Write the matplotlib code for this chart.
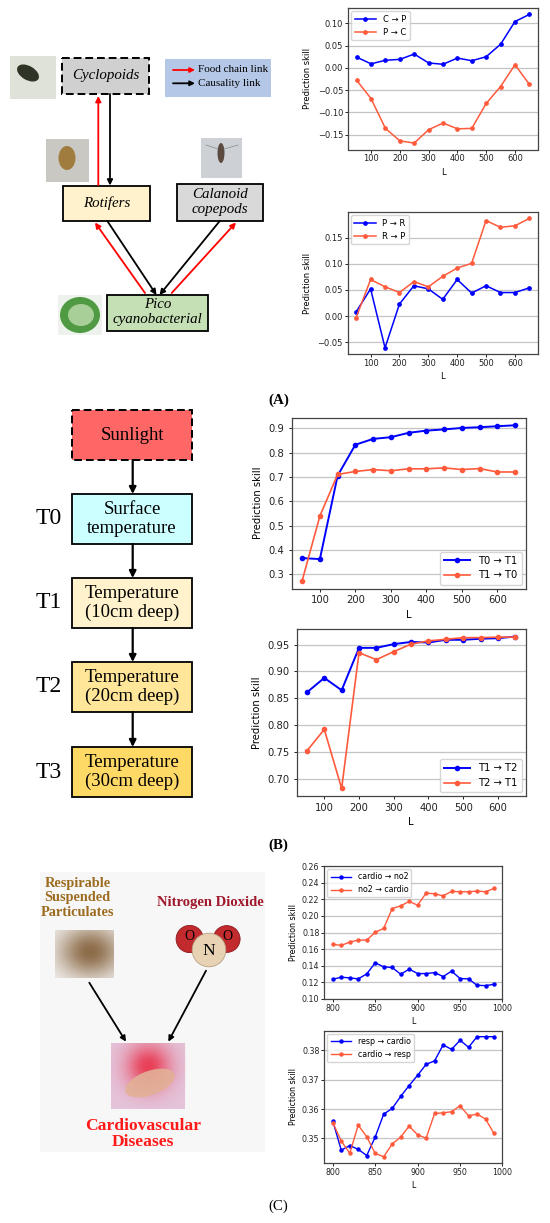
import numpy as np
import matplotlib
matplotlib.use('Agg')
import matplotlib.pyplot as plt
from matplotlib.patches import Rectangle, Circle, Ellipse

# ---------------- data ----------------
L_A = [50, 100, 150, 200, 250, 300, 350, 400, 450, 500, 550, 600, 650]
A1_c_to_p = [0.024, 0.009, 0.017, 0.019, 0.031, 0.011, 0.008, 0.022, 0.016, 0.025, 0.053, 0.104, 0.120]
A1_p_to_c = [-0.028, -0.069, -0.136, -0.164, -0.169, -0.139, -0.124, -0.137, -0.136, -0.080, -0.042, 0.007, -0.037]
A2_p_to_r = [0.008, 0.052, -0.061, 0.023, 0.058, 0.052, 0.032, 0.070, 0.044, 0.058, 0.045, 0.045, 0.054]
A2_r_to_p = [-0.003, 0.070, 0.056, 0.045, 0.066, 0.056, 0.076, 0.092, 0.101, 0.183, 0.170, 0.173, 0.187]

L_B = [50, 100, 150, 200, 250, 300, 350, 400, 450, 500, 550, 600, 650]
B1_t0_t1 = [0.366, 0.362, 0.705, 0.832, 0.856, 0.863, 0.881, 0.890, 0.895, 0.901, 0.904, 0.908, 0.912]
B1_t1_t0 = [0.273, 0.539, 0.710, 0.722, 0.730, 0.725, 0.733, 0.733, 0.737, 0.730, 0.734, 0.720, 0.720]
B2_t1_t2 = [0.861, 0.888, 0.865, 0.944, 0.944, 0.951, 0.955, 0.954, 0.959, 0.959, 0.961, 0.962, 0.965]
B2_t2_t1 = [0.752, 0.792, 0.682, 0.935, 0.922, 0.937, 0.951, 0.957, 0.960, 0.963, 0.963, 0.964, 0.964]

L_C = [800, 810, 820, 830, 840, 850, 860, 870, 880, 890, 900, 910, 920, 930, 940, 950, 960, 970, 980, 990]
C1_cardio_no2 = [0.1238, 0.1262, 0.1254, 0.1242, 0.1302, 0.1435, 0.1387, 0.1379, 0.1298, 0.1359,
                 0.1306, 0.1306, 0.1318, 0.1270, 0.1335, 0.1246, 0.1242, 0.1165, 0.1161, 0.1177]
C1_no2_cardio = [0.1657, 0.1645, 0.1685, 0.1709, 0.1709, 0.1802, 0.1850, 0.2088, 0.2121, 0.2173,
                 0.2129, 0.2274, 0.2266, 0.2241, 0.2294, 0.2290, 0.2290, 0.2298, 0.2290, 0.2330]
C2_resp_cardio = [0.3559, 0.3460, 0.3476, 0.3463, 0.3442, 0.3505, 0.3583, 0.3602, 0.3643, 0.3680,
                  0.3715, 0.3752, 0.3764, 0.3818, 0.3803, 0.3834, 0.3810, 0.3846, 0.3846, 0.3846]
C2_cardio_resp = [0.3554, 0.3491, 0.3450, 0.3545, 0.3506, 0.3449, 0.3438, 0.3481, 0.3505, 0.3542,
                  0.3512, 0.3501, 0.3585, 0.3587, 0.3591, 0.3611, 0.3577, 0.3583, 0.3566, 0.3517]

BLUE = '#0000ff'
RED = '#ff5a3c'
SERIF = ['Liberation Serif', 'DejaVu Serif']

W, H = 550, 1223
fig = plt.figure(figsize=(W / 100, H / 100), dpi=100)


def px(l, t, r, b):
    return [l / W, 1 - b / H, (r - l) / W, (b - t) / H]


# ---------------- diagram layer ----------------
dg = fig.add_axes([0, 0, 1, 1])
dg.set_xlim(0, W)
dg.set_ylim(H, 0)
dg.axis('off')


def box(x0, y0, x1, y1, fc, dashed=False, lw=1.3):
    ls = (0, (4, 2)) if dashed else '-'
    dg.add_patch(Rectangle((x0, y0), x1 - x0, y1 - y0, fc=fc, ec='black', lw=lw, ls=ls, zorder=2))


def arrow(x0, y0, x1, y1, color='black', lw=1.3, ms=8):
    dg.annotate('', xy=(x1, y1), xytext=(x0, y0),
                arrowprops=dict(arrowstyle='-|>', color=color, lw=lw, mutation_scale=ms,
                                shrinkA=0, shrinkB=0), zorder=3)


def txt(x, y, s, fs, **kw):
    dg.text(x, y, s, fontsize=fs, family=SERIF, ha='center', va='center', zorder=4, **kw)


def gradient_img(x0, y0, x1, y1, rgb, cx=0.5, cy=0.5, sx=0.45, sy=0.45, amax=1.0):
    n = 60
    xx, yy = np.meshgrid(np.linspace(0, 1, n), np.linspace(0, 1, n))
    a = np.exp(-(((xx - cx) / sx) ** 2 + ((yy - cy) / sy) ** 2)) * amax
    img = np.zeros((n, n, 4))
    img[..., 0], img[..., 1], img[..., 2] = rgb
    img[..., 3] = np.clip(a, 0, 1)
    dg.imshow(img, extent=(x0, x1, y1, y0), aspect='auto', zorder=2, interpolation='bilinear')


# ---- Panel A diagram ----
# photos (approximate sketches)
dg.add_patch(Rectangle((10, 56), 46, 43, fc='#dfe2d8', ec='none', zorder=1))
dg.add_patch(Ellipse((28, 73), 24, 14, angle=30, fc='#2f3526', ec='none', zorder=2))
dg.add_patch(Rectangle((46, 139), 43, 43, fc='#cac8c2', ec='none', zorder=1))
dg.add_patch(Ellipse((67, 158), 17, 24, fc='#a07c3e', ec='none', zorder=2))
dg.add_patch(Rectangle((201, 138), 41, 40, fc='#cdd1d6', ec='none', zorder=1))
dg.add_patch(Ellipse((221, 153), 7, 20, fc='#5a4a40', ec='none', zorder=2))
dg.plot([206, 218], [145, 149], color='#888', lw=0.5, zorder=2)
dg.plot([224, 238], [149, 145], color='#888', lw=0.5, zorder=2)
dg.add_patch(Rectangle((58, 295), 44, 40, fc='#eef2ec', ec='none', zorder=1))
dg.add_patch(Ellipse((80, 315), 40, 36, fc='#4f9a42', ec='none', zorder=2))
dg.add_patch(Ellipse((81, 315), 26, 22, fc='#a9cf98', ec='none', zorder=2))

box(62.3, 58.3, 149, 94, '#d0d0d0', dashed=True, lw=1.4)
txt(105.6, 76, 'Cyclopoids', 10.8, style='italic')
dg.add_patch(Rectangle((164.7, 59), 106, 37.7, fc='#b4c7e7', ec='none', zorder=1))
arrow(173, 70, 195, 70, color='#ff0000', lw=1.3, ms=7)
arrow(173, 83.3, 195, 83.3, color='black', lw=1.3, ms=7)
dg.text(197.5, 70, 'Food chain link', fontsize=8, family=SERIF, va='center', ha='left', zorder=4)
dg.text(197.5, 83.3, 'Causality link', fontsize=8, family=SERIF, va='center', ha='left', zorder=4)

box(63.3, 185.7, 150, 221, '#fff2cc')
txt(106.6, 203.3, 'Rotifers', 10.8, style='italic')
box(176.7, 184.3, 263.3, 220.7, '#d9d9d9')
txt(220, 202.5, 'Calanoid\ncopepods', 10.8, style='italic', linespacing=1.2)
box(106.7, 295, 208.3, 331, '#c5e0b4')
txt(157.5, 312.5, 'Pico\ncyanobacterial', 10.8, style='italic', linespacing=1.2)

arrow(98.3, 185, 98.3, 96, color='#ff0000')
arrow(110, 94, 110, 185.5)
arrow(145, 293, 95, 222.5, color='#ff0000')
arrow(107.3, 221, 156.5, 295)
arrow(220, 220.7, 159.5, 295)
arrow(171.7, 293, 236, 222.5, color='#ff0000')

txt(278.5, 400, '(A)', 10.8, weight='bold')

# ---- Panel B diagram ----
box(72.3, 410, 191.5, 460, '#ff6666', dashed=True, lw=1.4)
txt(132, 435, 'Sunlight', 13.5)
box(72.3, 494, 191.5, 544, '#ccffff')
txt(132, 519, 'Surface\ntemperature', 13.5, linespacing=1.2)
box(72.3, 578, 191.5, 628, '#fff2cc')
txt(132, 603, 'Temperature\n(10cm deep)', 13.5, linespacing=1.2)
box(72.3, 662, 191.5, 712, '#ffe699')
txt(132, 687, 'Temperature\n(20cm deep)', 13.5, linespacing=1.2)
box(72.3, 747, 191.5, 797, '#ffd966')
txt(132, 772, 'Temperature\n(30cm deep)', 13.5, linespacing=1.2)
for y0, y1 in [(460, 494), (544, 578), (628, 662), (712, 747)]:
    arrow(132.7, y0, 132.7, y1, lw=1.6, ms=10)
for lab, y in [('T0', 519), ('T1', 603), ('T2', 687), ('T3', 772)]:
    txt(49, y, lab, 17)
txt(278.5, 845, '(B)', 10.8, weight='bold')

# ---- Panel C diagram ----
dg.add_patch(Rectangle((40, 872), 225, 280, fc='#f7f7f7', ec='none', zorder=0))
txt(77.7, 898, 'Respirable\nSuspended\nParticulates', 10.3, weight='bold', color='#9c6b1f', linespacing=1.1)
txt(210, 902.7, 'Nitrogen Dioxide', 10.5, weight='bold', color='#a0182c')
gradient_img(55, 930, 114, 978, (0.55, 0.42, 0.28), cx=0.6, cy=0.45, sx=0.55, sy=0.55, amax=1.0)
dg.add_patch(Circle((189.7, 939), 13.6, fc='#c22a2e', ec='#8a1a1e', lw=0.6, zorder=2))
dg.add_patch(Circle((226.7, 939), 13.4, fc='#c22a2e', ec='#8a1a1e', lw=0.6, zorder=2))
dg.add_patch(Circle((209, 950), 16.8, fc='#e8d2b4', ec='#b8a080', lw=0.6, zorder=3))
txt(189, 936, 'O', 10)
txt(227, 936, 'O', 10)
txt(209, 951, 'N', 12.5)
arrow(89.3, 982.7, 126, 1041.7)
arrow(206, 970.7, 168.3, 1041.7)
dg.add_patch(Rectangle((111, 1043), 74.3, 66, fc='#e4c4da', ec='none', zorder=1))
gradient_img(111, 1043, 185.3, 1109, (0.92, 0.15, 0.25), cx=0.5, cy=0.35, sx=0.3, sy=0.35, amax=0.85)
dg.add_patch(Ellipse((150, 1083), 52, 24, angle=-20, fc='#e2b096', ec='none', zorder=3, alpha=0.9))
txt(143.3, 1134.5, 'Cardiovascular\nDiseases', 12.6, weight='bold', color='#ff1a1a', linespacing=1.0)
txt(278.5, 1206, '(C)', 10.8)


# ---------------- charts ----------------
def style(ax, fs, tl, tp, lp=4):
    ax.grid(axis='y', color='#c4c4c4', lw=0.9)
    ax.set_axisbelow(True)
    ax.tick_params(labelsize=fs, length=tl, width=0.7, pad=tp, colors='#222')
    for s in ax.spines.values():
        s.set_color('#444')
        s.set_linewidth(0.9)
    ax.set_xlabel('L', fontsize=fs, labelpad=3)
    ax.set_ylabel('Prediction skill', fontsize=fs, labelpad=lp)


def draw(ax, x, y, color, label, lw, ms):
    ax.plot(x, y, color=color, lw=lw, marker='o', ms=ms, label=label)


# A1
ax = fig.add_axes(px(348, 8, 538, 149.5))
draw(ax, L_A, A1_c_to_p, BLUE, 'C → P', 1.1, 2.4)
draw(ax, L_A, A1_p_to_c, RED, 'P → C', 1.1, 2.4)
ax.set_xticks([100, 200, 300, 400, 500, 600])
ax.set_yticks([-0.15, -0.10, -0.05, 0.00, 0.05, 0.10])
style(ax, 6, 2, 1.5)
ax.legend(loc='upper left', fontsize=6, handlelength=2.6, borderaxespad=0.4, framealpha=0.8)

# A2
ax = fig.add_axes(px(347.5, 212, 538, 354.3))
draw(ax, L_A, A2_p_to_r, BLUE, 'P → R', 1.1, 2.4)
draw(ax, L_A, A2_r_to_p, RED, 'R → P', 1.1, 2.4)
ax.set_xticks([100, 200, 300, 400, 500, 600])
ax.set_yticks([-0.05, 0.00, 0.05, 0.10, 0.15])
style(ax, 6, 2, 1.5)
ax.legend(loc='upper left', fontsize=6, handlelength=2.6, borderaxespad=0.4, framealpha=0.8)

# B1
ax = fig.add_axes(px(291.5, 417.5, 525.7, 588.5))
draw(ax, L_B, B1_t0_t1, BLUE, 'T0 → T1', 1.4, 3)
draw(ax, L_B, B1_t1_t0, RED, 'T1 → T0', 1.2, 3)
ax.set_xticks([100, 200, 300, 400, 500, 600])
ax.set_yticks([0.3, 0.4, 0.5, 0.6, 0.7, 0.8, 0.9])
style(ax, 7.2, 2.5, 2.5)
ax.legend(loc='lower right', fontsize=7.2, handlelength=2.6, borderaxespad=0.4, framealpha=0.8)

# B2
ax = fig.add_axes(px(296.5, 629, 525.7, 796))
draw(ax, L_B, B2_t1_t2, BLUE, 'T1 → T2', 1.4, 3)
draw(ax, L_B, B2_t2_t1, RED, 'T2 → T1', 1.2, 3)
ax.set_xticks([100, 200, 300, 400, 500, 600])
ax.set_yticks([0.70, 0.75, 0.80, 0.85, 0.90, 0.95])
style(ax, 7.2, 2.5, 2.5)
ax.legend(loc='lower right', fontsize=7.2, handlelength=2.6, borderaxespad=0.4, framealpha=0.8)

# C1
ax = fig.add_axes(px(324.3, 866, 502.5, 999))
draw(ax, L_C, C1_cardio_no2, BLUE, 'cardio → no2', 1.0, 2.2)
draw(ax, L_C, C1_no2_cardio, RED, 'no2 → cardio', 1.0, 2.2)
ax.set_xlim(790, 1000)
ax.set_ylim(0.10, 0.26)
ax.set_xticks([800, 850, 900, 950, 1000])
ax.set_yticks([0.10, 0.12, 0.14, 0.16, 0.18, 0.20, 0.22, 0.24, 0.26])
style(ax, 5.7, 2, 1.5, lp=2.5)
ax.legend(loc='upper left', fontsize=5.7, handlelength=2.6, borderaxespad=0.4, framealpha=0.8)

# C2
ax = fig.add_axes(px(324.3, 1030.7, 502.5, 1162.7))
draw(ax, L_C, C2_resp_cardio, BLUE, 'resp → cardio', 1.0, 2.2)
draw(ax, L_C, C2_cardio_resp, RED, 'cardio → resp', 1.0, 2.2)
ax.set_xlim(790, 1000)
ax.set_xticks([800, 850, 900, 950, 1000])
ax.set_yticks([0.35, 0.36, 0.37, 0.38])
style(ax, 5.7, 2, 1.5, lp=2.5)
ax.legend(loc='upper left', fontsize=5.7, handlelength=2.6, borderaxespad=0.4, framealpha=0.8)

fig.savefig('out.png', dpi=100, facecolor='white')
